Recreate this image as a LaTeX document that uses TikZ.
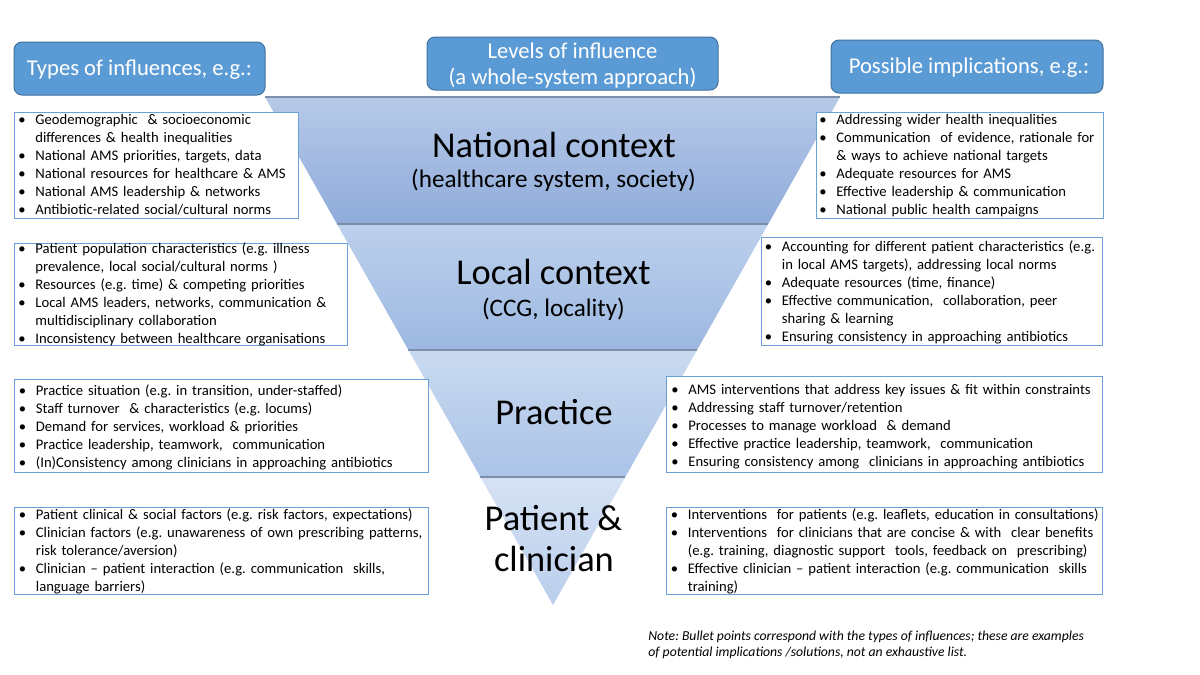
\documentclass[tikz,border=0pt]{standalone}
\usepackage{fontspec}
\setmainfont{Carlito}
\usetikzlibrary{calc,fit}
\frenchspacing
\definecolor{hdrfill}{HTML}{5B9BD5}
\definecolor{hdrdraw}{HTML}{41719C}
\definecolor{boxdraw}{HTML}{6A9FD8}
\definecolor{sepline}{HTML}{7C8FA8}
\definecolor{nattop}{HTML}{B6C9E8}
\definecolor{natbot}{HTML}{90ACDB}
\definecolor{loctop}{HTML}{BDD0EC}
\definecolor{locbot}{HTML}{9CB8E1}
\definecolor{prctop}{HTML}{CADAF0}
\definecolor{prcbot}{HTML}{AAC3E7}
\definecolor{pattop}{HTML}{D6E2F4}
\definecolor{patbot}{HTML}{B9CEEC}
\newcommand{\itm}[1]{\parskip=0pt\relax\hangindent=8.5pt\hangafter=1\noindent\makebox[8.5pt][l]{•}#1\par}
\tikzset{
  hdr/.style={rectangle, rounded corners=4pt, fill=hdrfill, draw=hdrdraw, line width=0.5pt, inner sep=0pt},
  hdrtext/.style={text=white, font=\fontsize{11.3}{13.3}\selectfont, align=center, inner sep=0pt},
  listbox/.style={rectangle, draw=boxdraw, line width=0.5pt, fill=white, inner sep=0pt},
  listtext/.style={anchor=base west, inner sep=0pt, text width=260pt, align=left, font=\fontsize{7.33}{9}\selectfont\frenchspacing},
  ttl/.style={anchor=base, inner sep=0pt, font=\fontsize{18.2}{20}\selectfont},
  subttl/.style={anchor=base, inner sep=0pt, font=\fontsize{12.6}{14}\selectfont},
  sep/.style={draw=sepline, line width=0.6pt},
}
\begin{document}
\frenchspacing
\begin{tikzpicture}[x=0.5pt,y=-0.5pt]
\useasboundingbox (0,0) rectangle (1200,675);
\fill[white] (0,0) rectangle (1200,675);
% triangle
\coordinate (TL) at (265,97);
\coordinate (TR) at (840,97);
\coordinate (AP) at (553,605);
\coordinate (L1) at ($(TL)!0.25!(AP)$);
\coordinate (R1) at ($(TR)!0.25!(AP)$);
\coordinate (L2) at ($(TL)!0.498!(AP)$);
\coordinate (R2) at ($(TR)!0.498!(AP)$);
\coordinate (L3) at ($(TL)!0.748!(AP)$);
\coordinate (R3) at ($(TR)!0.748!(AP)$);
\shade[top color=nattop, bottom color=natbot] (TL) -- (TR) -- (R1) -- (L1) -- cycle;
\shade[top color=loctop, bottom color=locbot] (L1) -- (R1) -- (R2) -- (L2) -- cycle;
\shade[top color=prctop, bottom color=prcbot] (L2) -- (R2) -- (R3) -- (L3) -- cycle;
\shade[top color=pattop, bottom color=patbot] (L3) -- (R3) -- (AP) -- cycle;
\draw[sep] (TL) -- (TR);
\draw[sep] (L1) -- (R1);
\draw[sep] (L2) -- (R2);
\draw[sep] (L3) -- (R3);
% titles in triangle
\node[ttl] (tnat) at (554,157.7) {National context};
\node[subttl] (snat) at (553.5,187.5) {(healthcare system, society)};
\node[ttl] (tloc) at (553.5,284) {Local context};
\node[subttl] (sloc) at (553.5,316) {(CCG, locality)};
\node[ttl] (tprc) at (554,424) {Practice};
\node[ttl] (tpat) at (553.5,530.7) {Patient \&};
\node[ttl] (tcli) at (554,571.7) {clinician};
% headers
\node[hdr, fit={(14,42) (265,95)}] (h1) {};
\node[hdrtext] (h1t) at ($(h1.center)+(0,1)$) {Types of influences, e.g.:};
\node[hdr, fit={(427,37) (718,90)}] (h2) {};
\node[hdrtext] (h2t) at ($(h2.center)+(0,2)$) {Levels of influence\\(a whole-system approach)};
\node[hdr, fit={(831,40) (1103,93)}] (h3) {};
\node[hdrtext] (h3t) at (969,67.5) {Possible implications, e.g.:};
% left boxes
\node[listbox, fit={(14,112) (298,218)}] (bl1) {};
\node[listtext] (tl1) at (18,124.5) {%
\itm{Geodemographic \ \& socioeconomic\newline differences \& health inequalities}
\itm{National AMS priorities, targets, data}
\itm{National resources for healthcare \& AMS}
\itm{National AMS leadership \& networks}
\itm{Antibiotic-related social/cultural norms}};
\node[listbox, fit={(14,243) (347,345)}] (bl2) {};
\node[listtext] (tl2) at (18,253.5) {%
\itm{Patient population characteristics (e.g. illness\newline prevalence, local social/cultural norms )}
\itm{Resources (e.g. time) \& competing priorities}
\itm{Local AMS leaders, networks, communication \&\newline multidisciplinary collaboration}
\itm{Inconsistency between healthcare organisations}};
\node[listbox, fit={(14,379) (428,472)}] (bl3) {};
\node[listtext] (tl3) at (18.5,395) {%
\itm{Practice situation (e.g. in transition, under-staffed)}
\itm{Staff turnover \ \& characteristics (e.g. locums)}
\itm{Demand for services, workload \& priorities}
\itm{Practice leadership, teamwork, \ communication}
\itm{(In)Consistency among clinicians in approaching antibiotics}};
\node[listbox, fit={(14,507) (428,594)}] (bl4) {};
\node[listtext] (tl4) at (18.5,519) {%
\itm{Patient clinical \& social factors (e.g. risk factors, expectations)}
\itm{Clinician factors (e.g. unawareness of own prescribing patterns,\newline risk tolerance/aversion)}
\itm{Clinician – patient interaction (e.g. communication \ skills,\newline language barriers)}};
% right boxes
\node[listbox, fit={(816,112) (1103,218)}] (br1) {};
\node[listtext] (tr1) at (819,124.5) {%
\itm{Addressing wider health inequalities}
\itm{Communication \ of evidence, rationale for\newline \& ways to achieve national targets}
\itm{Adequate resources for AMS}
\itm{Effective leadership \& communication}
\itm{National public health campaigns}};
\node[listbox, fit={(761,237) (1102,345)}] (br2) {};
\node[listtext] (tr2) at (764.5,251) {%
\itm{Accounting for different patient characteristics (e.g.\newline in local AMS targets), addressing local norms}
\itm{Adequate resources (time, finance)}
\itm{Effective communication, \ collaboration, peer\newline sharing \& learning}
\itm{Ensuring consistency in approaching antibiotics}};
\node[listbox, fit={(666,376) (1102,472)}] (br3) {};
\node[listtext] (tr3) at (671,394) {%
\itm{AMS interventions that address key issues \& fit within constraints}
\itm{Addressing staff turnover/retention}
\itm{Processes to manage workload \ \& demand}
\itm{Effective practice leadership, teamwork, \ communication}
\itm{Ensuring consistency among \ clinicians in approaching antibiotics}};
\node[listbox, fit={(666,507) (1102,594)}] (br4) {};
\node[listtext] (tr4) at (670.5,519.5) {%
\itm{Interventions \ for patients (e.g. leaflets, education in consultations)}
\itm{Interventions \ for clinicians that are concise \& with \ clear benefits\newline (e.g. training, diagnostic support \ tools, feedback on \ prescribing)}
\itm{Effective clinician – patient interaction (e.g. communication \ skills\newline training)}};
% note
\node[anchor=base west, inner sep=0pt, align=left, font=\fontsize{6.85}{8}\selectfont\itshape] (note) at (648,656) {Note: Bullet points correspond with the types of influences; these are examples\\of potential implications /solutions, not an exhaustive list.};
\end{tikzpicture}
\end{document}
